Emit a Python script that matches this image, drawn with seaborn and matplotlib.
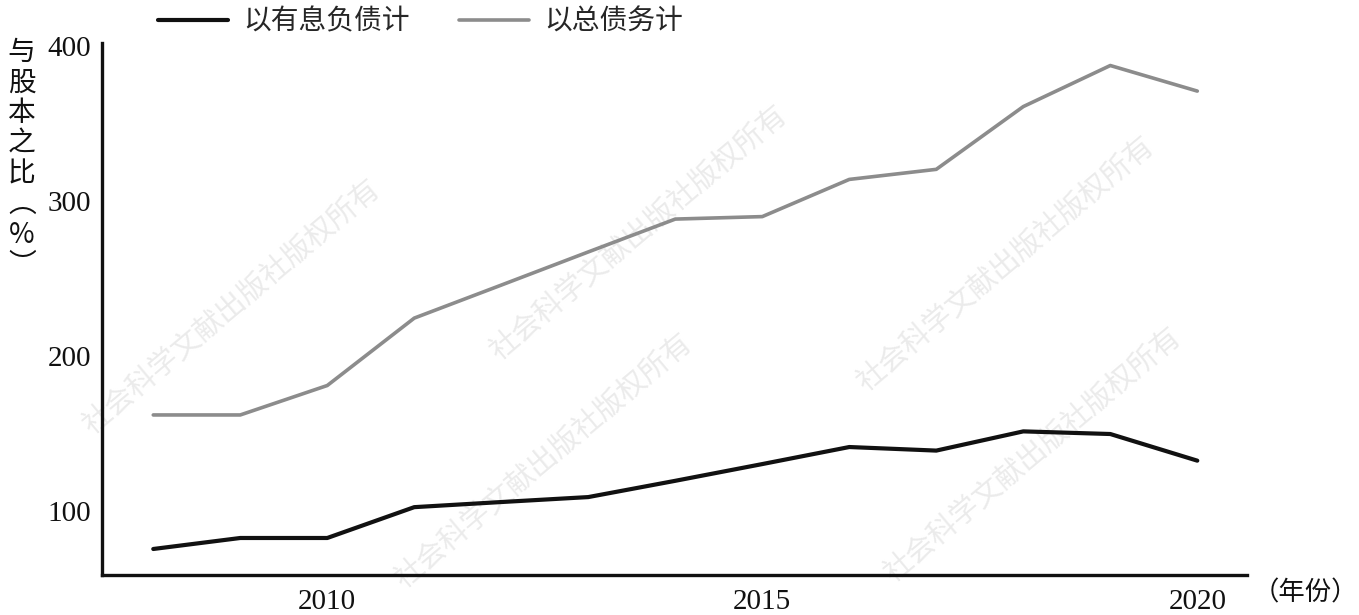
import pandas as pd
import matplotlib.pyplot as plt
import seaborn as sns

sns.set_theme(style="white")
plt.rcParams['font.family'] = ['Noto Sans CJK SC', 'DejaVu Sans']

# data
years = [2008, 2009, 2010, 2011, 2012, 2013, 2014, 2015, 2016, 2017, 2018, 2019, 2020]
interest_debt = [75.5, 82.6, 82.6, 102.5, 105.8, 109.0, 119.5, 130.3, 141.3, 139.0, 151.4, 149.7, 132.5]
total_debt = [162.0, 162.0, 181.0, 224.5, 245.8, 267.2, 288.4, 290.0, 314.0, 320.5, 361.0, 387.5, 371.0]
series_names = ['以有息负债计', '以总债务计']
x_ticks = [2010, 2015, 2020]
y_ticks = [100, 200, 300, 400]

df = pd.DataFrame({
    'year': years * 2,
    'value': interest_debt + total_debt,
    'series': [series_names[0]] * len(years) + [series_names[1]] * len(years),
})

fig = plt.figure(figsize=(13.59, 6.15), dpi=100)
ax = fig.add_axes([0.075, 0.065, 0.8425, 0.865])
ax.set_zorder(2)
ax.patch.set_alpha(0)

# faint publisher watermark, kept behind the axes
wm = '社会科学文献出版社版权所有'
for cx, cy in [(0.17, 0.50), (0.47, 0.62), (0.40, 0.25), (0.74, 0.57), (0.76, 0.26)]:
    fig.text(cx, cy, wm, rotation=40, ha='center', va='center', fontsize=21,
             color='#ebebeb', zorder=0)

sns.lineplot(data=df, x='year', y='value', hue='series', hue_order=series_names,
             palette=['#111111', '#8c8c8c'], ax=ax, legend=False)
ax.lines[0].set_linewidth(3.0)
ax.lines[1].set_linewidth(2.6)

ax.set_xlim(2007.41, 2020.57)
ax.set_ylim(58.7, 402)
ax.set_xticks(x_ticks)
ax.set_yticks(y_ticks)
ax.set_xticklabels([str(t) for t in x_ticks], family='Liberation Serif', fontsize=21)
ax.set_yticklabels([str(t) for t in y_ticks], family='Liberation Serif', fontsize=21)
ax.tick_params(axis='both', direction='in', length=8, width=2.2, color='#111111', labelcolor='#111111')
ax.tick_params(axis='x', pad=10)
ax.tick_params(axis='y', pad=8)
ax.set_xlabel('')
ax.set_ylabel('')
for side in ['top', 'right']:
    ax.spines[side].set_visible(False)
for side in ['left', 'bottom']:
    ax.spines[side].set_linewidth(2.4)
    ax.spines[side].set_color('#111111')

# vertical y label and x unit
fig.text(0.016, 0.94, '\n'.join(['与', '股', '本', '之', '比', '︵', '%', '︶']),
         ha='center', va='top', fontsize=20, color='#111111', linespacing=1.02)
fig.text(0.922, 0.036, '（年份）', ha='left', va='center', fontsize=19, color='#111111')

# legend across the top
handles = [plt.Line2D([], [], color='#111111', lw=3.0), plt.Line2D([], [], color='#8c8c8c', lw=2.6)]
fig.legend(handles, series_names, loc='upper left', bbox_to_anchor=(0.098, 1.03), ncol=2,
           frameon=False, fontsize=20, handlelength=2.5, handletextpad=0.55, columnspacing=1.8)

fig.savefig('out.png', dpi=100)
